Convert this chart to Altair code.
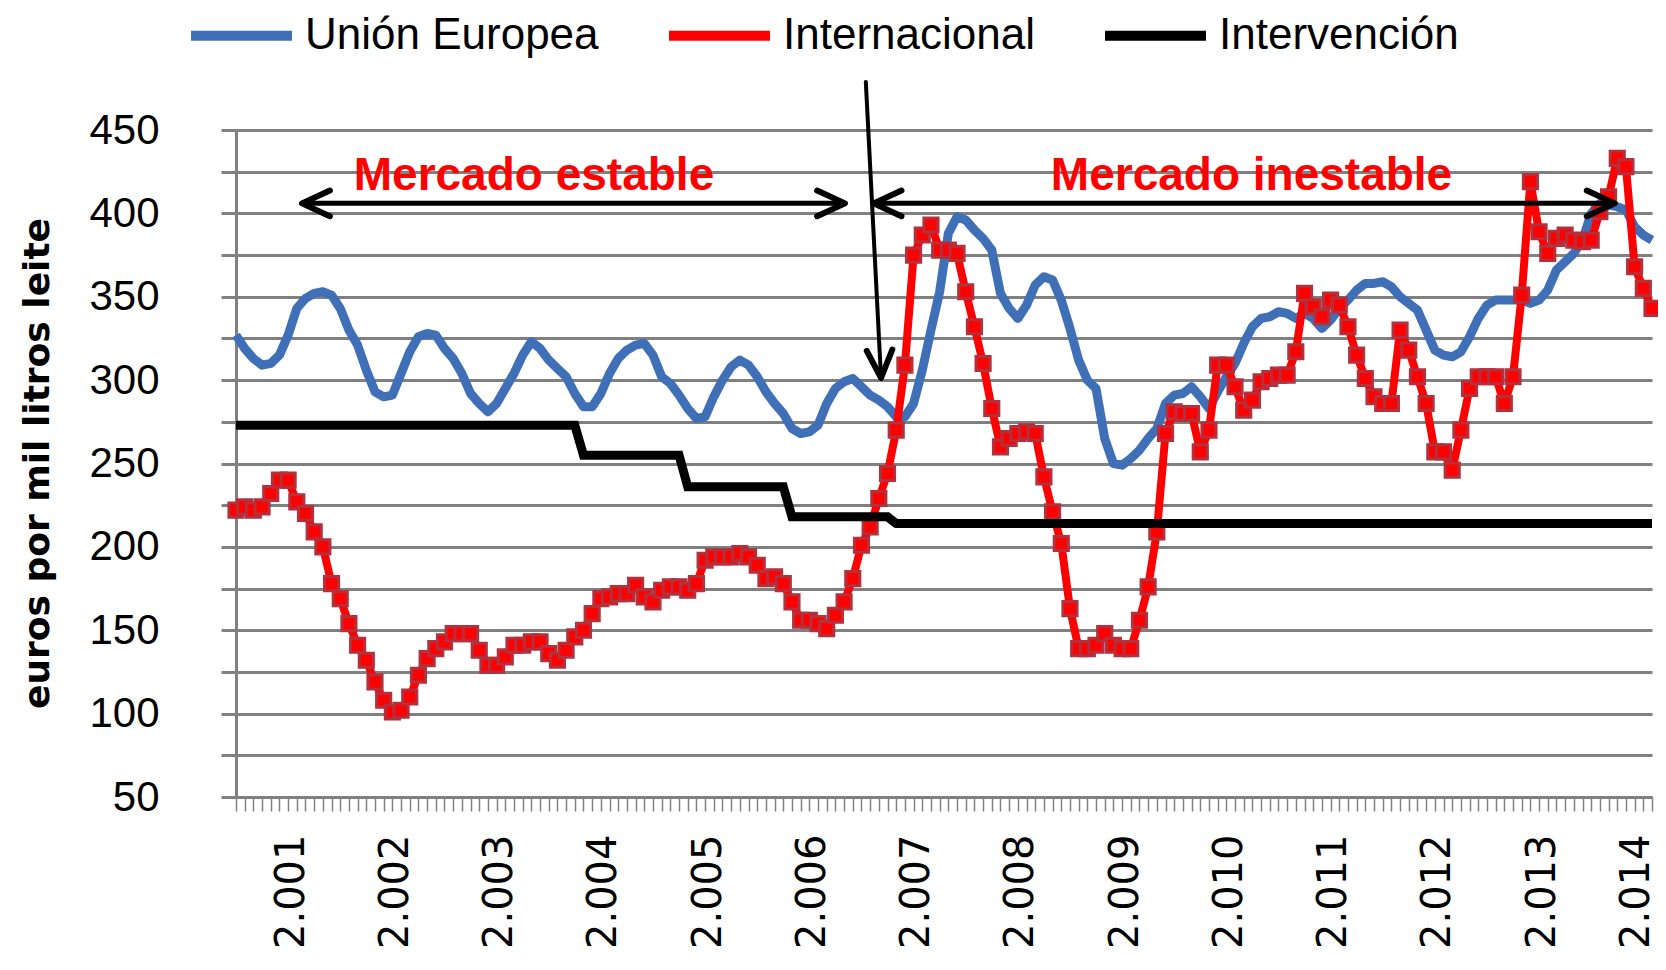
import json
import altair as alt
import pandas as pd

# ---------------- data (monthly, index 0..163) ----------------
SERIES = ["Unión Europea", "Internacional", "Intervención"]
COLORS = ["#3F6FB6", "#FF0000", "#000000"]

UE = [327, 319, 313, 309, 310, 315, 327, 343, 349, 352, 353, 351, 343, 330, 321, 306,
      293, 290, 291, 304, 317, 326, 328, 327, 319, 313, 304, 292, 286, 281, 286, 295,
      304, 315, 323, 319, 312, 307, 302, 292, 284, 284, 292, 304, 313, 318, 321, 322,
      315, 302, 298, 291, 283, 277, 278, 290, 300, 308, 312, 309, 302, 293, 286, 280,
      271, 268, 269, 273, 286, 295, 299, 301, 296, 291, 288, 284, 278, 278, 286, 306,
      330, 353, 388, 398, 396, 390, 385, 378, 352, 343, 337, 345, 357, 362, 360, 348,
      331, 312, 300, 295, 265, 250, 249, 253, 258, 265, 271, 286, 291, 292, 296, 290,
      283, 293, 302, 310, 322, 332, 337, 338, 341, 340, 337, 340, 337, 331, 336, 343,
      348, 354, 358, 358, 359, 356, 350, 346, 342, 330, 318, 315, 314, 317, 326, 337,
      345, 348, 348, 348, 348, 346, 348, 354, 366, 371, 376, 384, 400, 406, 405, 404,
      402, 392, 387, 384]

INTERNACIONAL = [222, 224, 222, 224, 232, 240, 240, 227, 220, 209, 200, 178, 169, 154, 141, 132,
                 119, 108, 101, 102, 110, 123, 133, 139, 143, 148, 148, 148, 138, 129, 129, 134,
                 141, 141, 143, 143, 136, 132, 138, 146, 150, 160, 169, 170, 172, 172, 177, 170,
                 167, 174, 176, 176, 174, 178, 192, 194, 194, 194, 196, 194, 189, 181, 182, 178,
                 167, 156, 156, 154, 151, 159, 167, 181, 201, 212, 229, 244, 270, 309, 375, 387,
                 393, 378, 378, 376, 353, 332, 310, 283, 260, 265, 268, 269, 268, 242, 221, 202,
                 163, 139, 139, 141, 148, 141, 139, 139, 156, 176, 209, 268, 281, 280, 280, 257,
                 270, 309, 309, 296, 282, 288, 299, 301, 303, 303, 317, 352, 344, 338, 348, 345,
                 332, 315, 301, 290, 286, 286, 330, 318, 302, 286, 257, 257, 246, 270, 295, 302,
                 302, 302, 286, 302, 351, 419, 389, 376, 385, 387, 384, 383, 384, 401, 410, 433,
                 428, 368, 355, 343]

# intervention price: level and first month index of each step
INTERV_LEVELS = [273, 255, 236, 218, 214]
INTERV_STARTS = [0, 40, 52, 64, 76]

YEAR_LABELS = ["2.001", "2.002", "2.003", "2.004", "2.005", "2.006", "2.007",
               "2.008", "2.009", "2.010", "2.011", "2.012", "2.013", "2.014"]
Y_TICKS = [50, 75, 100, 125, 150, 175, 200, 225, 250, 275, 300, 325, 350, 375,
           400, 425, 450]

# annotations (in month-index / value units)
TEXT_LABELS = ["Mercado estable", "Mercado inestable"]
TEXT_X = [34.3, 116.9]
TEXT_Y = [414, 414]

ARROW_X1 = [7.6, 73.4]
ARROW_X2 = [70.1, 158.7]
ARROW_Y = [406, 406]

DIAG_X = [72.5, 74.25]
DIAG_Y = [478.8, 301.3]

# ---------------- build tables ----------------
N = len(UE)
interv = []
for k, lvl in enumerate(INTERV_LEVELS):
    end = INTERV_STARTS[k + 1] if k + 1 < len(INTERV_STARTS) else N
    interv += [lvl] * (end - INTERV_STARTS[k])

df_ue = pd.DataFrame({"i": range(N), "value": UE, "serie": SERIES[0]})
df_int = pd.DataFrame({"i": range(N), "value": INTERNACIONAL, "serie": SERIES[1]})
df_iv = pd.DataFrame({"i": range(N), "value": interv, "serie": SERIES[2]})

df_text = pd.DataFrame({"i": TEXT_X, "value": TEXT_Y, "label": TEXT_LABELS})
df_arrows = pd.DataFrame({"i": ARROW_X1, "i2": ARROW_X2, "value": ARROW_Y})
df_diag = pd.DataFrame({"i": [DIAG_X[0]], "i2": [DIAG_X[1]],
                        "value": [DIAG_Y[0]], "value2": [DIAG_Y[1]]})
heads = pd.DataFrame({
    "i": [ARROW_X1[0], ARROW_X2[0], ARROW_X1[1], ARROW_X2[1], DIAG_X[1]],
    "value": [ARROW_Y[0], ARROW_Y[0], ARROW_Y[1], ARROW_Y[1], DIAG_Y[1]],
    "ang": [180, 0, 180, 0, 87],
})

GRAY = "#808080"
label_expr = ("(datum.value % 12 == 6) ? " + json.dumps(YEAR_LABELS) +
              "[(datum.value - 6) / 12] : ''")
last_label_month = 6 + 12 * (len(YEAR_LABELS) - 1)

X = alt.X("i:Q",
          scale=alt.Scale(domain=[0, N - 1], nice=False, zero=False),
          axis=alt.Axis(values=list(range(N)), grid=False, title=None,
                        domainColor=GRAY, domainWidth=3,
                        tickColor=GRAY, tickWidth=1.5, tickSize=14,
                        labelAngle=270, labelFont="DejaVu Sans", labelFontSize=40,
                        labelColor="#000000", labelPadding=23,
                        labelOffset={"condition": {"test": f"datum.value == {last_label_month}",
                                                   "value": -7},
                                     "value": 3},
                        labelExpr=label_expr, labelOverlap=False, labelFlush=False))
Y = alt.Y("value:Q",
          scale=alt.Scale(domain=[50, 450], nice=False, zero=False),
          axis=alt.Axis(values=Y_TICKS, grid=True, gridColor=GRAY, gridWidth=3,
                        domainColor=GRAY, domainWidth=3,
                        tickColor=GRAY, tickWidth=3, tickSize=15,
                        labelFont="Liberation Sans", labelFontSize=42,
                        labelColor="#000000", labelPadding=62,
                        title="euros por mil litros leite",
                        titleFont="DejaVu Sans", titleFontSize=36,
                        titleFontWeight="bold", titleColor="#000000",
                        titleAngle=270, titleAlign="center", titleBaseline="middle",
                        titleX=-199, titleY=333))

legend = alt.Legend(orient="none", legendX=-50, legendY=-150, direction="horizontal",
                    symbolType="stroke", symbolSize=10200, symbolStrokeWidth=10,
                    labelFont="Liberation Sans", labelFontSize=44, labelColor="#000000",
                    labelOffset=8, columnPadding=50, labelLimit=800, padding=0)
COLOR = alt.Color("serie:N", scale=alt.Scale(domain=SERIES, range=COLORS),
                  legend=legend, title=None)

ue_line = alt.Chart(df_ue).mark_line(strokeWidth=9, strokeJoin="round").encode(
    x=X, y=Y, color=COLOR)
int_line = alt.Chart(df_int).mark_line(strokeWidth=8, strokeJoin="round").encode(
    x=X, y=Y, color=COLOR)
int_pts = alt.Chart(df_int).mark_point(shape="square", filled=True, size=200,
                                       fill="#FF0000", stroke="#B3303D",
                                       strokeWidth=3, opacity=1).encode(x=X, y=Y)
iv_line = alt.Chart(df_iv).mark_line(strokeWidth=9).encode(x=X, y=Y, color=COLOR)

texts = alt.Chart(df_text).mark_text(font="Liberation Sans", fontSize=46,
                                     fontWeight="bold", color="#FF0000",
                                     align="center", baseline="alphabetic").encode(
    x=X, y=Y, text="label:N")
arrows = alt.Chart(df_arrows).mark_rule(color="#000000", strokeWidth=5,
                                        strokeCap="round").encode(
    x=X, x2="i2:Q", y=Y)
diag = alt.Chart(df_diag).mark_rule(color="#000000", strokeWidth=4,
                                    strokeCap="round").encode(
    x=X, x2="i2:Q", y=Y, y2="value2:Q")
arrowheads = alt.Chart(heads).mark_point(shape="M-1,-0.46L0,0L-1,0.46", size=3100,
                                         filled=False, stroke="#000000",
                                         strokeWidth=6, strokeCap="round",
                                         strokeJoin="round", opacity=1).encode(
    x=X, y=Y, angle=alt.Angle("ang:Q", scale=None))

chart = alt.layer(ue_line, int_line, int_pts, iv_line, texts, arrows, diag,
                  arrowheads).properties(
    width=1416, height=667,
    autosize=alt.AutoSizeParams(type="none"),
    padding={"left": 228, "top": 122, "right": 6, "bottom": 164},
    background="#FFFFFF",
).configure_view(strokeWidth=0)

chart.save("out.html", embed_options={"renderer": "svg", "actions": False})
